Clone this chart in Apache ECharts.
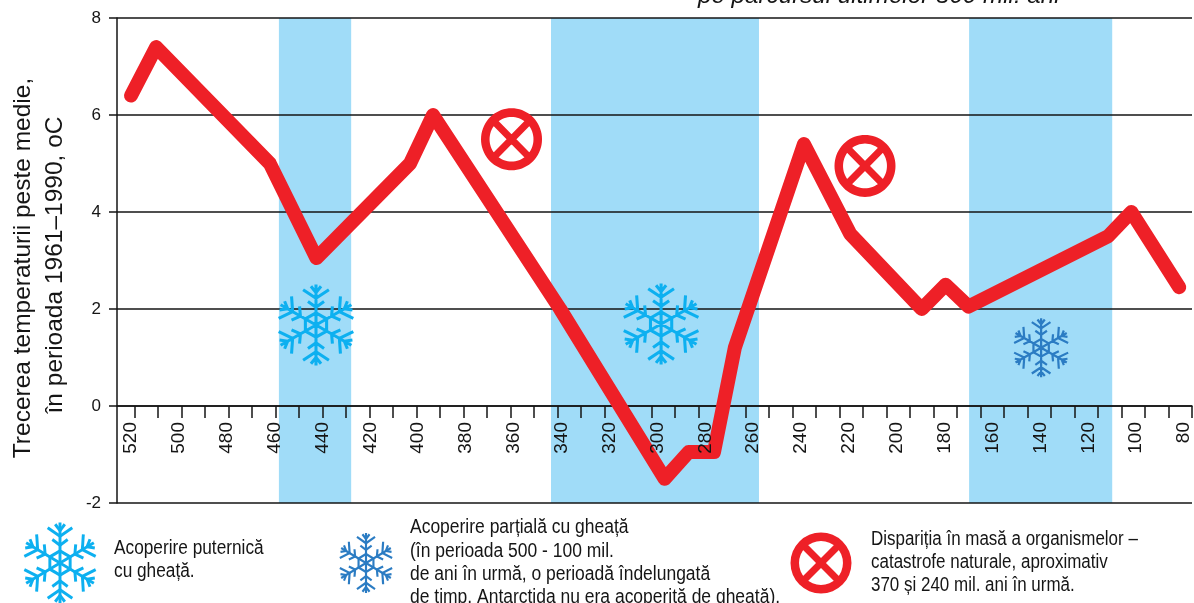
<!DOCTYPE html>
<html><head><meta charset="utf-8">
<style>html,body{margin:0;padding:0;background:#fff}#c{width:1194px;height:603px}</style>
<script src="https://cdn.jsdelivr.net/npm/echarts@6/dist/echarts.min.js"></script>
</head><body><div id="c"></div>
<script>
const labelValues = [520,500,480,460,440,420,400,380,360,340,320,300,280,260,240,220,200,180,160,140,120,100,80];
const tickValues = [520,510,500,490,480,470,460,450,440,430,420,410,400,390,380,370,360,350,340,330,320,310,300,290,280,270,260,250,240,230,220,210,200,190,180,170,160,150,140,130,120,110,100,90,80,70];
const ages =  [520,509.5,462,442.5,403.4,393.8,340.7,297,287,276.4,267.7,238.8,219.5,189.6,179.6,170,111.7,102,82];
const temps = [6.4,7.4,5.0,3.05,5.0,6.0,2.0,-1.5,-0.95,-0.95,1.2,5.4,3.55,2.0,2.5,2.05,3.5,4.0,2.45];
const iceBands = [[458.2,428],[344.5,257.6],[169.8,110]];
const strongIce = [[442.7,1.67],[298.5,1.69]];
const partialIce = [[139.7,1.2]];
const extinctions = [[361,5.5],[213.3,4.95]];
const yearTitle = ['Trecerea temperaturii peste medie,','în perioada 1961–1990, oC'];
const topNote = 'pe parcursul ultimelor 500 mil. ani';
const legendStrong = ['Acoperire puternică','cu gheață.'];
const legendPartial = ['Acoperire parțială cu gheață','(în perioada 500 - 100 mil.','de ani în urmă, o perioadă îndelungată','de timp, Antarctida nu era acoperită de gheață).'];
const legendExtinct = ['Dispariția în masă a organismelor –','catastrofe naturale, aproximativ','370 și 240 mil. ani în urmă.'];

const RED='#EE2027', BAND='#A0DCF8', ICE='#0DB0F0', ICE2='#2B7CC3', INK='#151515';
const FONT='"Liberation Sans",sans-serif';

function bar(x1,y1,x2,y2,w){
  const dx=x2-x1,dy=y2-y1,l=Math.hypot(dx,dy),nx=-dy/l*w/2,ny=dx/l*w/2;
  return [[x1+nx,y1+ny],[x2+nx,y2+ny],[x2-nx,y2-ny],[x1-nx,y1-ny]];
}
function rot(p,a){return [p[0]*Math.cos(a)-p[1]*Math.sin(a),p[0]*Math.sin(a)+p[1]*Math.cos(a)];}
function poly(pts){return 'M'+pts.map(p=>p[0].toFixed(2)+' '+p[1].toFixed(2)).join('L')+'Z';}
function flakePolys(){
  const out=[];const w=7.5;
  for(let k=0;k<6;k++){
    const a=k*Math.PI/3, add=b=>{out.push(b.map(p=>rot(p,a)));};
    add(bar(0,0,0,-100,w));
    [[-80,20,38],[-66,38,56],[-44,24,55]].forEach(([y,l,deg])=>{
      const t=deg*Math.PI/180;
      add(bar(0,y,-l*Math.sin(t),y-l*Math.cos(t),w));
      add(bar(0,y,l*Math.sin(t),y-l*Math.cos(t),w));
    });
    const p=[0,-30],q=rot(p,Math.PI/3);
    add(bar(p[0],p[1],q[0],q[1],w));
  }
  return out;
}
function circlePts(r,ccw){
  const pts=[];for(let i=0;i<72;i++){const a=(ccw?-1:1)*i*5*Math.PI/180;pts.push([r*Math.cos(a),r*Math.sin(a)]);}
  return pts;
}
const crossBars=[bar(-62,-62,62,62,23),bar(62,-62,-62,62,23)];
const FLAKE='path://'+flakePolys().map(poly).join('');
const CROSS='path://'+poly(circlePts(100,true))+poly(circlePts(72,false))+crossBars.map(poly).join('');

function textLines(lines,x,ys,sx){
  return lines.map((t,i)=>({type:'text',x:x,y:ys[i],scaleX:sx,silent:true,z:20,
    style:{text:t,fill:INK,font:'19.5px '+FONT,textAlign:'left',textVerticalAlign:'middle'}}));
}
function flakeIcon(cx,cy,w,h,color){
  return {type:'group',x:cx,y:cy,scaleX:w/192,scaleY:h/200,silent:true,
    children:flakePolys().map(p=>({type:'polygon',silent:true,shape:{points:p},style:{fill:color}}))};
}
function crossIcon(cx,cy,w,h,color){
  return {type:'group',x:cx,y:cy,scaleX:w/200,scaleY:h/200,silent:true,
    children:[{type:'ring',silent:true,shape:{cx:0,cy:0,r:100,r0:72},style:{fill:color}}]
      .concat(crossBars.map(p=>({type:'polygon',silent:true,shape:{points:p},style:{fill:color}})))};
}

const chart=echarts.init(document.getElementById('c'),null,{renderer:'canvas'});
chart.setOption({
  animation:false,
  grid:{left:117,right:2,top:18,bottom:100,containLabel:false},
  xAxis:[
    {type:'value',inverse:true,min:70,max:527.5,position:'bottom',z:3,
     axisLine:{onZero:true,lineStyle:{color:INK,width:1.5}},
     axisTick:{show:true,length:12,inside:false,customValues:tickValues,lineStyle:{color:INK,width:1.5}},
     axisLabel:{show:false},splitLine:{show:false}},
    {type:'value',inverse:true,min:76.66,max:525.85,position:'bottom',offset:-97,z:10,
     axisLine:{show:false,onZero:false},axisTick:{show:false},splitLine:{show:false},
     axisLabel:{show:true,rotate:90,margin:16,fontSize:19,fontFamily:FONT,color:INK,customValues:labelValues,hideOverlap:false}}
  ],
  yAxis:{type:'value',min:-2,max:8,interval:2,z:3,
    axisLine:{show:true,onZero:false,lineStyle:{color:INK,width:1.5}},
    axisTick:{show:true,length:8,lineStyle:{color:INK,width:1.5}},
    axisLabel:{margin:16,fontSize:17,fontFamily:FONT,color:INK},
    splitLine:{show:true,lineStyle:{color:INK,width:1.5}}},
  series:[
    {type:'line',xAxisIndex:1,z:1,data:[],silent:true,
     markArea:{silent:true,itemStyle:{color:BAND,opacity:1},data:iceBands.map(b=>[{xAxis:b[0]},{xAxis:b[1]}])}},
    {type:'line',xAxisIndex:1,z:5,silent:true,symbol:'none',clip:false,
     data:ages.map((a,i)=>[a,temps[i]]),
     lineStyle:{color:RED,width:14,cap:'round',join:'round'}},
    {type:'scatter',xAxisIndex:1,z:6,silent:true,symbol:FLAKE,symbolSize:[76,81],data:strongIce,itemStyle:{color:ICE,opacity:1}},
    {type:'scatter',xAxisIndex:1,z:6,silent:true,symbol:FLAKE,symbolSize:[55,59],data:partialIce,itemStyle:{color:ICE2,opacity:1}},
    {type:'scatter',xAxisIndex:1,z:6,silent:true,symbol:CROSS,symbolSize:[61,62],data:extinctions,itemStyle:{color:RED,opacity:1}}
  ],
  graphic:[
    {type:'text',x:23,y:268,rotation:Math.PI/2,silent:true,style:{text:yearTitle[0],fill:INK,font:'24.5px '+FONT,textAlign:'center',textVerticalAlign:'middle'}},
    {type:'text',x:55,y:265,rotation:Math.PI/2,silent:true,style:{text:yearTitle[1],fill:INK,font:'24.5px '+FONT,textAlign:'center',textVerticalAlign:'middle'}},
    {type:'text',x:698,y:-4,silent:true,style:{text:topNote,fill:INK,font:'italic 24.2px '+FONT,textAlign:'left',textVerticalAlign:'middle'}},
    flakeIcon(60,563,75,81,ICE),
    flakeIcon(366,563,55,60,ICE2),
    crossIcon(821,563,61,61,RED),
    ...textLines(legendStrong,114,[549,572],0.885),
    ...textLines(legendPartial,410,[528,552,575,598],0.896),
    ...textLines(legendExtinct,871,[540,563,586],0.87)
  ]
});
</script></body></html>
